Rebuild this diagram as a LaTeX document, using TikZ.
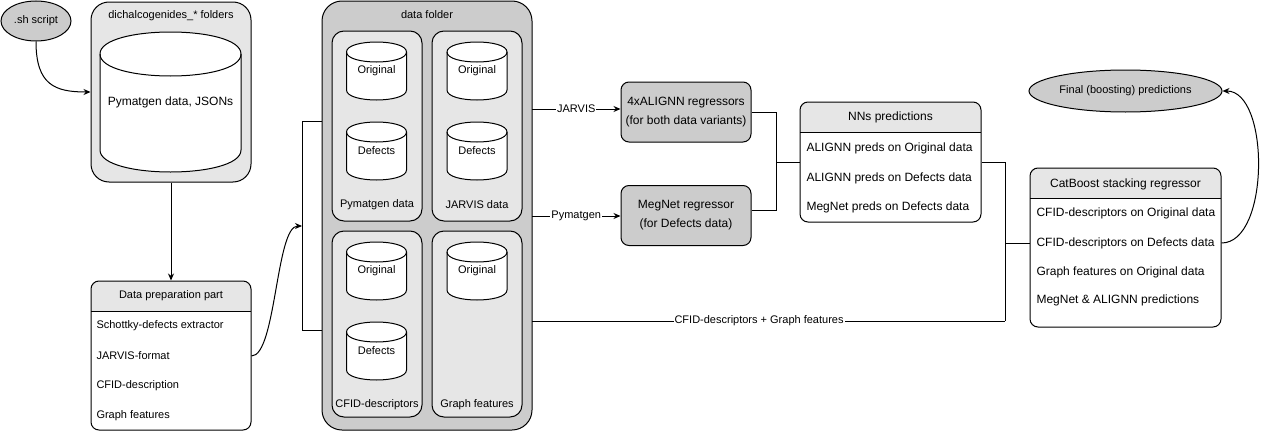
\documentclass[tikz,border=0pt]{standalone}
\usepackage{fontspec}
\setmainfont{Liberation Sans}
\usepackage{tikz}
\usetikzlibrary{shapes.geometric,arrows.meta}

\definecolor{lightbox}{HTML}{E6E6E6}
\definecolor{darkbox}{HTML}{CCCCCC}

% database cylinder: name, centre x, centre y, width, height, cap, text
\newcommand{\dbcyl}[7]{%
	\filldraw[fill=white] (#2-#4/2,#3-#5/2+#6) -- (#2-#4/2,#3+#5/2-#6)
		.. controls (#2-#4/2,#3+#5/2+#6/3) and (#2+#4/2,#3+#5/2+#6/3) .. (#2+#4/2,#3+#5/2-#6)
		-- (#2+#4/2,#3-#5/2+#6)
		.. controls (#2+#4/2,#3-#5/2-#6/3) and (#2-#4/2,#3-#5/2-#6/3) .. cycle;
	\draw (#2-#4/2,#3-#5/2+#6) .. controls (#2-#4/2,#3-#5/2+7*#6/3) and (#2+#4/2,#3-#5/2+7*#6/3) .. (#2+#4/2,#3-#5/2+#6);
	\node[minimum width=#4, minimum height=#5, inner sep=0] (#1) at (#2,#3) {#7};
}

\begin{document}
\begin{tikzpicture}[x=1pt, y=-1pt, line width=1pt,
	font=\fontsize{11}{13}\selectfont,
	bigtxt/.style={font=\fontsize{12}{14}\selectfont},
	arr/.style={-{Stealth[length=7pt,width=6pt]}},
	folder/.style={draw, fill=lightbox, rounded corners=18, inner sep=0},
	subfolder/.style={draw, fill=lightbox, rounded corners=12, inner sep=0},
	oval/.style={draw, fill=darkbox, ellipse, inner sep=0},
	model/.style={draw, fill=darkbox, rounded corners=8, inner sep=0, align=center, font=\fontsize{12}{19}\selectfont},
	listbox/.style={draw, fill=white, rounded corners=8, inner sep=0,
		path picture={\fill[lightbox, sharp corners] (path picture bounding box.north west) rectangle ([yshift=-30pt]path picture bounding box.north east);
			\draw[sharp corners] ([yshift=-30pt]path picture bounding box.north west) -- ([yshift=-30pt]path picture bounding box.north east);}},
	rowtxt/.style={anchor=west, inner sep=0},
	lbl/.style={fill=white, inner sep=1pt}]
	\useasboundingbox (0,0) rectangle (1261,431);

	% sources
	\node[oval, minimum width=70, minimum height=40] (sh) at (36,21) {.sh script};
	\node[folder, minimum width=160, minimum height=180] (chalc) at (171,92) {};
	\node (chalcT) at (171,16) {dichalcogenides\_* folders};
	\dbcyl{jsons}{170.5}{102}{141}{140}{22}{\fontsize{12}{14}\selectfont Pymatgen data, JSONs}

	\node[listbox, minimum width=160, minimum height=149] (prep) at (171,355.5) {};
	\node (prepT) at (171,296) {Data preparation part};
	\node[rowtxt] (prepA) at (96,326) {Schottky-defects extractor};
	\node[rowtxt] (prepB) at (96,356) {JARVIS-format};
	\node[rowtxt] (prepC) at (96,386) {CFID-description};
	\node[rowtxt] (prepD) at (96,416) {Graph features};

	% data folder
	\node[draw, fill=darkbox, rounded corners=20, minimum width=210, minimum height=429] (dfold) at (427,215.5) {};
	\node (dfoldT) at (427,15) {data folder};
	\node[subfolder, minimum width=90, minimum height=190] (pymbox) at (377,126) {};
	\node[subfolder, minimum width=90, minimum height=190] (jarbox) at (477,126) {};
	\node[subfolder, minimum width=90, minimum height=186] (cfidbox) at (377,324) {};
	\node[subfolder, minimum width=90, minimum height=186] (grbox) at (477,324) {};
	\node (pymboxT) at (377,205) {Pymatgen data};
	\node (jarboxT) at (477,205) {JARVIS data};
	\node (cfidboxT) at (377,405) {CFID-descriptors};
	\node (grboxT) at (477,405) {Graph features};
	\dbcyl{pymOrig}{376.5}{71}{60}{58}{10}{Original}
	\dbcyl{pymDef}{376.5}{151}{60}{58}{10}{Defects}
	\dbcyl{jarOrig}{477}{71}{60}{58}{10}{Original}
	\dbcyl{jarDef}{477}{151}{60}{58}{10}{Defects}
	\dbcyl{cfidOrig}{376.5}{271}{60}{58}{10}{Original}
	\dbcyl{cfidDef}{376.5}{351}{60}{58}{10}{Defects}
	\dbcyl{grOrig}{477}{271}{60}{58}{10}{Original}

	% models
	\node[model, minimum width=130, minimum height=60] (alignn) at (686,112) {4xALIGNN regressors\\(for both data variants)};
	\node[model, minimum width=130, minimum height=60] (megnet) at (686,215.5) {MegNet regressor\\(for Defects data)};

	\node[listbox, minimum width=181, minimum height=120] (nn) at (890.5,162) {};
	\node[bigtxt] (nnT) at (890.5,117) {NNs predictions};
	\node[rowtxt, bigtxt] (nnA) at (806,148) {ALIGNN preds on Original data};
	\node[rowtxt, bigtxt] (nnB) at (806,178) {ALIGNN preds on Defects data};
	\node[rowtxt, bigtxt] (nnC) at (806,207) {MegNet preds on Defects data};

	\node[listbox, minimum width=191, minimum height=159] (cat) at (1125.5,247.5) {};
	\node[bigtxt] (catT) at (1125.5,184) {CatBoost stacking regressor};
	\node[rowtxt, bigtxt] (catA) at (1036,213) {CFID-descriptors on Original data};
	\node[rowtxt, bigtxt] (catB) at (1036,243) {CFID-descriptors on Defects data};
	\node[rowtxt, bigtxt] (catC) at (1036,272) {Graph features on Original data};
	\node[rowtxt, bigtxt] (catD) at (1036,300) {MegNet \& ALIGNN predictions};

	\node[oval, minimum width=193, minimum height=42] (final) at (1125.5,91) {Final (boosting) predictions};

	% connectors
	\coordinate (brA) at (322,121);
	\coordinate (brB) at (302,121);
	\coordinate (brMid) at (302,226);
	\coordinate (brC) at (302,330);
	\coordinate (brD) at (322,330);
	\coordinate (jarOut) at (532,109);
	\coordinate (pymOut) at (532,216);
	\coordinate (cfOut) at (532,321);
	\coordinate (nnJoin) at (776,162);
	\coordinate (catJoin) at (1005,321);

	\draw[arr] (sh.south) .. controls (36,85) and (55,92) .. (chalc.west);
	\draw[arr] (chalc.south) -- (prep.north);
	\draw (brA) -- (brB) -- (brC) -- (brD);
	\draw[arr] (prepB -| prep.east) .. controls (276,356) and (276,226) .. (brMid);
	\draw[arr] (jarOut) -- node[lbl] {JARVIS} (jarOut -| alignn.west);
	\draw[arr] (pymOut) -- node[lbl] {Pymatgen} (pymOut -| megnet.west);
	\draw (alignn.east) -| (nnJoin) -- (nn.west);
	\draw ([yshift=5pt]megnet.east) -| (nnJoin);
	\draw (nn.east) -| (catJoin);
	\draw (cfOut) -- node[lbl, pos=0.48] {CFID-descriptors + Graph features} (catJoin);
	\draw (catB -| cat.west) -- (catB -| catJoin);
	\draw[arr] (catB -| cat.east) .. controls (1270,243) and (1270,91) .. (final.east);
\end{tikzpicture}
\end{document}
